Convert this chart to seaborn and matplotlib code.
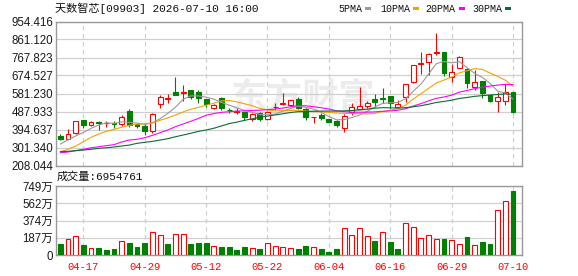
import matplotlib
matplotlib.use('Agg')
import matplotlib.pyplot as plt
from matplotlib.patches import Rectangle
import numpy as np
import seaborn as sns

# trading days shown (2026)
dates = ['04-14', '04-15', '04-16', '04-17', '04-20', '04-21', '04-22', '04-23', '04-24', '04-27',
         '04-28', '04-29', '04-30', '05-04', '05-05', '05-06', '05-07', '05-08', '05-11', '05-12',
         '05-13', '05-14', '05-15', '05-18', '05-19', '05-20', '05-21', '05-22', '05-26', '05-27',
         '05-28', '05-29', '06-01', '06-02', '06-03', '06-04', '06-05', '06-08', '06-09', '06-10',
         '06-11', '06-12', '06-15', '06-16', '06-17', '06-18', '06-22', '06-23', '06-24', '06-25',
         '06-26', '06-29', '06-30', '07-02', '07-03', '07-06', '07-07', '07-08', '07-09', '07-10']
tick_dates = ['04-17', '04-29', '05-12', '05-22', '06-04', '06-16', '06-29', '07-10']

opens = [361, 347, 375, 444, 416, 433, 427, 428, 421, 490,
         422, 414, 388, 527, 553, 590, 586, 599, 587, 551,
         506, 556, 498, 486, 487, 447, 478, 447, 513, 527,
         521, 551, 499, 459, 469, 449, 438, 401, 484, 501,
         516, 552, 558, 567, 513, 564, 642, 736, 746, 790,
         797, 668, 714, 706, 616, 646, 573, 542, 542, 590]
highs = [371, 395, 439, 446, 440, 438, 438, 440, 470, 502,
         430, 421, 478, 573, 577, 668, 625, 599, 599, 551,
         526, 561, 507, 504, 489, 478, 484, 492, 533, 582,
         548, 564, 504, 462, 478, 450, 444, 473, 530, 613,
         544, 578, 608, 568, 547, 629, 730, 797, 791, 893,
         797, 732, 775, 711, 703, 646, 573, 590, 628, 590]
lows = [340, 345, 373, 404, 414, 392, 409, 400, 413, 409,
        405, 364, 375, 507, 533, 571, 542, 551, 530, 512,
        501, 495, 478, 475, 444, 440, 438, 444, 495, 521,
        518, 499, 444, 427, 444, 434, 409, 383, 470, 500,
        504, 512, 530, 504, 507, 535, 634, 680, 677, 780,
        673, 642, 714, 611, 599, 556, 535, 484, 521, 478]
closes = [344, 371, 438, 418, 432, 429, 428, 425, 458, 418,
          412, 388, 473, 561, 556, 573, 591, 564, 559, 525,
          521, 506, 494, 489, 458, 473, 447, 487, 510, 530,
          545, 505, 458, 461, 452, 435, 418, 464, 513, 518,
          530, 535, 553, 530, 525, 629, 729, 738, 788, 795,
          686, 694, 768, 637, 642, 582, 542, 564, 590, 484]

# volume in 万 shares, and its colour (1 = up/red, 0 = down/green)
volumes = [119, 170, 206, 109, 72, 76, 54, 65, 152, 134,
           87, 134, 246, 214, 119, 225, 225, 119, 127, 134,
           98, 90, 90, 54, 90, 72, 65, 134, 98, 90,
           72, 65, 98, 83, 65, 36, 65, 290, 217, 290,
           206, 152, 246, 145, 65, 344, 301, 181, 214, 170,
           174, 163, 119, 192, 109, 145, 119, 489, 586, 695.4761]
vol_up = [0, 1, 1, 0, 1, 0, 0, 0, 1, 0,
          0, 0, 1, 1, 0, 1, 1, 0, 0, 0,
          1, 0, 0, 0, 0, 1, 0, 1, 1, 1,
          1, 0, 0, 1, 0, 0, 0, 1, 1, 1,
          1, 0, 1, 0, 0, 1, 1, 1, 1, 1,
          0, 1, 1, 0, 1, 0, 0, 1, 1, 0]

ma5 = [319, 340, 361, 379, 400.6, 417.6, 429, 426.4, 434.4, 431.6,
       428.2, 420.2, 429.8, 450.4, 478, 510.2, 550.8, 569, 568.6, 562.4,
       552, 535, 521, 507, 493.6, 484, 472.2, 470.8, 475, 489.4,
       503.8, 515.4, 509.6, 499.8, 484.2, 462.2, 444.8, 446, 456.4, 469.6,
       488.6, 512, 529.8, 533.2, 534.6, 554.4, 593.2, 630.2, 681.8, 735.8,
       747.2, 740.2, 746.2, 716, 685.4, 664.6, 634.2, 593.4, 584, 552.4]
ma10 = [279.5, 292, 309, 331, 354, 371, 385, 395.5, 406, 416,
        422.9, 424.6, 428.1, 442.4, 454.8, 469.2, 485.5, 499.4, 509.5, 520.2,
        531.1, 542.9, 545, 537.8, 528, 518, 503.6, 495.9, 491, 491.5,
        493.9, 493.8, 490.2, 487.4, 486.8, 483, 480.1, 477.8, 478.1, 476.9,
        475.4, 478.4, 487.9, 494.8, 502.1, 521.5, 552.6, 580, 607.5, 635.2,
        650.8, 666.7, 688.2, 698.9, 710.6, 705.9, 687.2, 669.8, 650, 618.9]
ma20 = [274, 278, 285, 292, 300, 305, 311, 316, 330, 340,
        344, 352, 364, 378, 392, 409, 423, 437, 452, 468.2,
        477, 483.8, 486.6, 490.1, 491.4, 493.6, 494.6, 497.7, 500.3, 505.9,
        512.5, 518.4, 517.6, 512.6, 507.4, 500.5, 491.9, 486.9, 484.6, 484.2,
        484.7, 486.1, 489.1, 491.1, 494.5, 502.3, 516.4, 528.9, 542.8, 556.1,
        563.1, 572.6, 588.1, 596.9, 606.4, 613.7, 619.9, 624.9, 628.8, 627.1]
ma30 = [279.5, 281.5, 285, 288, 292, 297, 300, 304, 309, 314,
        323, 328, 333, 340, 347, 357, 366, 375, 385, 392,
        401, 413, 425, 433, 442, 450, 458, 464, 470, 476,
        482.7, 487.2, 487.9, 489.3, 490, 490.2, 489.9, 491.2, 493, 496.3,
        500.2, 505.1, 507.8, 506.8, 505.8, 507.7, 512.3, 518.1, 525.7, 534.7,
        540.2, 546.5, 555.6, 560.5, 566.6, 570.2, 573.4, 576, 578.7, 577.2]

price_ticks = [208.044, 301.340, 394.637, 487.933, 581.230, 674.527, 767.823, 861.120, 954.416]
vol_max = 749.2
vol_tick_labels = ['0', '187万', '374万', '562万', '749万']
ma_names = ['5PMA', '10PMA', '20PMA', '30PMA']
ma_colors = ['#9a9a9a', '#f5a300', '#ff00ff', '#0b6b35']

title = '天数智芯[09903] 2026-07-10 16:00'
vol_title = '成交量:6954761'

RED = '#ff0000'
GREEN = '#008000'
GRID = '#d0d0d0'
FRAME = '#999999'

sns.set_style('white')
plt.rcParams['font.family'] = ['Liberation Sans', 'Noto Sans CJK SC']
mono = ['Liberation Mono', 'Noto Sans CJK SC']

W, H = 578, 276
fig = plt.figure(figsize=(W / 100, H / 100), dpi=100)
ax = fig.add_axes([56 / W, 1 - 165.5 / H, 466 / W, 144 / H])
axv = fig.add_axes([56 / W, 1 - 255 / H, 466 / W, 69 / H])

x = np.arange(len(dates))
opens = np.array(opens, float)
closes = np.array(closes, float)
up = closes >= opens
tick_pos = [dates.index(d) for d in tick_dates]

# watermark
ax.text(0.53, 0.47, '东方财富', transform=ax.transAxes, fontsize=26, fontweight='bold',
        color='#ececec', ha='center', va='center', zorder=0, family=['Noto Sans CJK SC'])

# candles
bw = 0.64
lw = 0.8
ax.vlines(x[up], np.array(lows)[up], np.array(highs)[up], color=RED, lw=lw, zorder=2)
ax.vlines(x[~up], np.array(lows)[~up], np.array(highs)[~up], color=GREEN, lw=lw, zorder=2)
body_lo = np.minimum(opens, closes)
body_h = np.maximum(np.abs(closes - opens), 0.5)
ax.bar(x[up], body_h[up], bottom=body_lo[up], width=bw, facecolor='white',
       edgecolor=RED, linewidth=lw, zorder=3)
ax.bar(x[~up], body_h[~up], bottom=body_lo[~up], width=bw, facecolor=GREEN,
       edgecolor=GREEN, linewidth=lw, zorder=3)

# moving averages
for vals, c in zip([ma5, ma10, ma20, ma30], ma_colors):
    sns.lineplot(x=x, y=vals, ax=ax, color=c, linewidth=0.8, legend=False, zorder=4)

# volume
vol_up = np.array(vol_up, bool)
vols = np.array(volumes, float)
axv.bar(x[vol_up], vols[vol_up], width=bw, facecolor='white', edgecolor=RED, linewidth=lw, zorder=3)
axv.bar(x[~vol_up], vols[~vol_up], width=bw, facecolor=GREEN, edgecolor=GREEN, linewidth=lw, zorder=3)

for a in (ax, axv):
    a.set_xlim(-0.56, 60.17)
    a.yaxis.grid(True, color=GRID, lw=0.9, ls='-', zorder=0)
    for p in tick_pos:
        a.axvline(p, color=GRID, lw=0.9, dashes=(3.6, 2.8), zorder=0)
    for s in a.spines.values():
        s.set_color(FRAME)
        s.set_linewidth(1.0)
    a.tick_params(length=0, pad=2, labelsize=8.3, colors='#1a1a1a')
    a.set_xlabel('')
    a.set_ylabel('')

ax.set_ylim(price_ticks[0], price_ticks[-1])
ax.set_yticks(price_ticks)
ax.set_yticklabels([f'{t:.3f}' for t in price_ticks])
ax.set_xticks(tick_pos)
ax.set_xticklabels([])

axv.set_ylim(0, vol_max)
axv.set_yticks([vol_max * k / 4 for k in range(5)])
axv.set_yticklabels(vol_tick_labels)
axv.set_xticks(tick_pos)
axv.set_xticklabels(tick_dates, family=mono, fontsize=7.6, color=RED)
axv.tick_params(axis='x', pad=5.2, colors=RED)

# header texts
fig.text(55 / W, 1 - 8.5 / H, title, family=mono, fontsize=8, va='center', ha='left', color='#111111')
fig.text(57 / W, 1 - 177 / H, vol_title, family=mono, fontsize=8, va='center', ha='left', color='#111111')

# legend: label followed by a colour swatch
leg_x = [338, 380, 425, 472]
sw_x = [365, 413, 459, 505]
for name, c, lx, sx in zip(ma_names, ma_colors, leg_x, sw_x):
    fig.text(lx / W, 1 - 8.5 / H, name, family=mono, fontsize=7.2, va='center', ha='left', color='#111111')
    fig.add_artist(Rectangle((sx / W, 1 - 10 / H), 6 / W, 3 / H, transform=fig.transFigure,
                             facecolor=c, edgecolor='none'))

fig.savefig('out.png', dpi=100)
